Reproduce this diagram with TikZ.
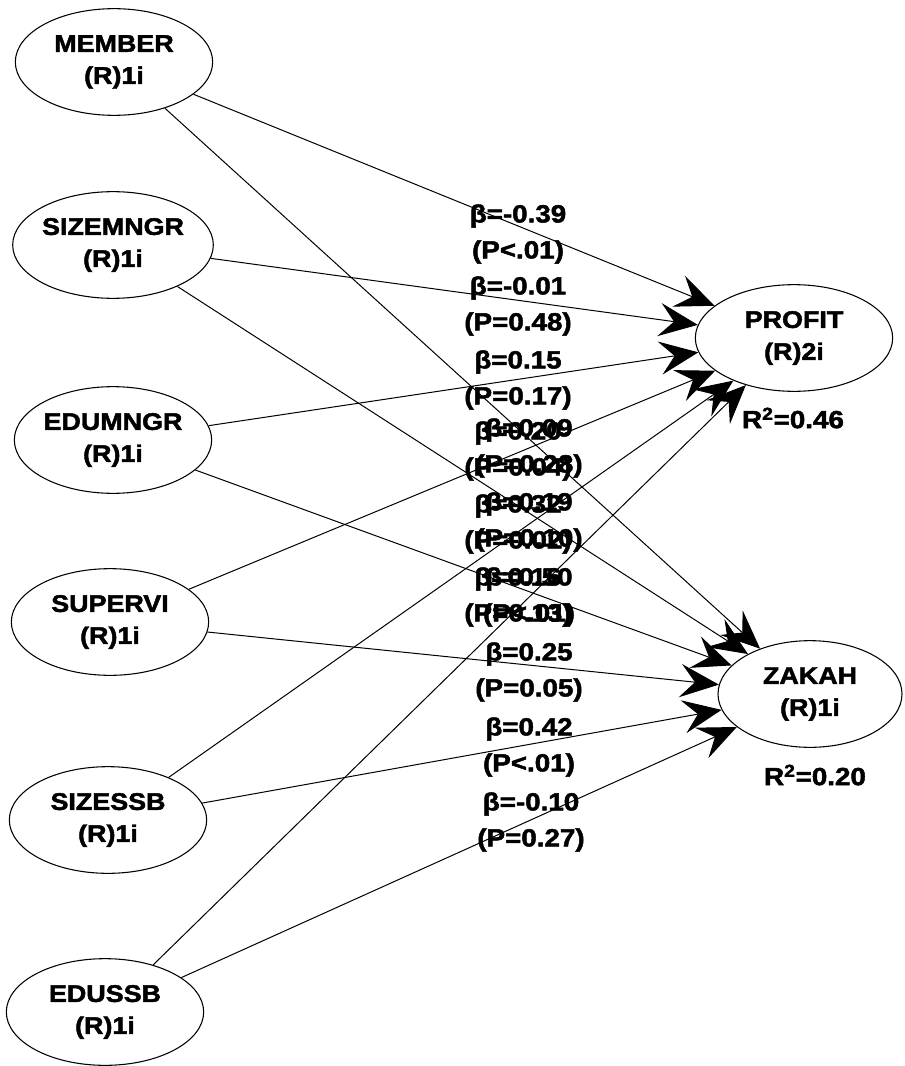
\documentclass[tikz,border=0pt]{standalone}
\usepackage{fontspec}
\setmainfont{Liberation Sans}[FakeStretch=1.12,BoldFeatures={FakeBold=2}]
\usetikzlibrary{shapes.geometric,arrows.meta}
\begin{document}
\begin{tikzpicture}[x=0.75pt,y=-0.75pt,
  var/.style={draw, ellipse, line width=0.8pt, minimum width=148pt, minimum height=80pt,
    inner sep=0pt, align=center, font=\fontsize{18}{24}\selectfont\bfseries},
  lbl/.style={align=center, inner sep=0pt, font=\fontsize{18.6}{27}\selectfont\bfseries},
  link/.style={line width=0.75pt, -{Stealth[length=29pt,width=25pt,inset=11pt]}}]
\useasboundingbox (0,0) rectangle (905,1066);
% exogenous
\node[var] (member) at (114,62) {MEMBER\\(R)1i};
\node[var] (sizemngr) at (113,245) {SIZEMNGR\\(R)1i};
\node[var] (edumngr) at (113,440) {EDUMNGR\\(R)1i};
\node[var] (supervi) at (110,622) {SUPERVI\\(R)1i};
\node[var] (sizessb) at (108,820) {SIZESSB\\(R)1i};
\node[var] (edussb) at (105,1012) {EDUSSB\\(R)1i};
% endogenous
\node[var] (profit) at (794,338) {PROFIT\\(R)2i};
\node[var, minimum width=138pt] (zakah) at (810,694) {ZAKAH\\(R)1i};
\node[lbl] (r2p) at (793,418) {R\textsuperscript{2}=0.46};
\node[lbl] (r2z) at (815,775) {R\textsuperscript{2}=0.20};
% connectors
\draw[link] (member) -- (profit);
\draw[link] (sizemngr) -- (profit);
\draw[link] (edumngr) -- (profit);
\draw[link] (supervi) -- (profit);
\draw[link] (sizessb) -- (profit);
\draw[link] (edussb) -- (profit);
\draw[link] (member) -- (zakah);
\draw[link] (sizemngr) -- (zakah);
\draw[link] (edumngr) -- (zakah);
\draw[link] (supervi) -- (zakah);
\draw[link] (sizessb) -- (zakah);
\draw[link] (edussb) -- (zakah);
% path labels (PROFIT)
\node[lbl] (lp1) at (518,234) {β=-0.39\\(P<.01)};
\node[lbl] (lp2) at (518,306) {β=-0.01\\(P=0.48)};
\node[lbl] (lp3) at (518,380) {β=0.15\\(P=0.17)};
\node[lbl] (lp4) at (518,451) {β=0.20\\(P=0.04)};
\node[lbl] (lp5) at (518,524) {β=0.32\\(P=0.02)};
\node[lbl] (lp6) at (518,597) {β=0.16\\(P=0.13)};
% path labels (ZAKAH)
\node[lbl] (lz1) at (529,448) {β=0.09\\(P=0.28)};
\node[lbl] (lz2) at (529,522) {β=0.19\\(P=0.10)};
\node[lbl] (lz3) at (529,597) {β=0.50\\(P<.01)};
\node[lbl] (lz4) at (529,672) {β=0.25\\(P=0.05)};
\node[lbl] (lz5) at (529,747) {β=0.42\\(P<.01)};
\node[lbl] (lz6) at (531,822) {β=-0.10\\(P=0.27)};
\end{tikzpicture}
\end{document}
